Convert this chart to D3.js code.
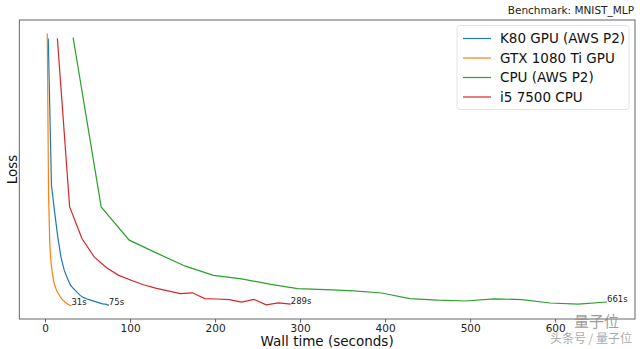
<!DOCTYPE html>
<html lang="en">
<head>
<meta charset="UTF-8">
<title>Benchmark: MNIST_MLP</title>
<script src="https://d3js.org/d3.v7.min.js"></script>
<style>
    body { margin: 0; background: #fff; font-family: "DejaVu Sans", sans-serif; }
    svg { display: block; }
</style>
</head>
<body>
<div id="chart"></div>
<script>
    // series names and colours
    const seriesNames = ["K80 GPU (AWS P2)", "GTX 1080 Ti GPU", "CPU (AWS P2)", "i5 7500 CPU"];
    const seriesColors = ["#1f77b4", "#ff7f0e", "#2ca02c", "#d62728"];

    // wall time per epoch (seconds)
    const k80Time = [3.75, 7.5, 11.25, 15, 18.75, 22.5, 26.25, 30, 33.75, 37.5, 41.25, 45, 48.75, 52.5, 56.25, 60, 63.75, 67.5, 71.25, 75];
    const gtxTime = [2.6, 4.1, 5.6, 7.1, 8.6, 10.1, 11.6, 13.1, 14.6, 16.1, 17.5, 19, 20.5, 22, 23.5, 25, 26.5, 28, 29.5, 31];
    const cpuTime = [33, 66, 99, 132, 165, 198, 231, 264, 297, 330, 363, 396, 429, 462, 495, 528, 561, 594, 627, 661];
    const i5Time  = [14.45, 28.9, 43.35, 57.8, 72.25, 86.7, 101.15, 115.6, 130.05, 144.5, 158.95, 173.4, 187.85, 202.3, 216.75, 231.2, 245.65, 260.1, 274.55, 289];

    // loss per epoch (no scale shown in the picture, so values are relative)
    const k80Loss = [0.688, 0.321, 0.254, 0.191, 0.141, 0.109, 0.089, 0.071, 0.0625, 0.054, 0.046, 0.041, 0.0375, 0.035, 0.0325, 0.030, 0.0275, 0.025, 0.024, 0.021];
    const gtxLoss = [0.700, 0.296, 0.171, 0.126, 0.101, 0.081, 0.070, 0.061, 0.054, 0.049, 0.044, 0.039, 0.035, 0.0325, 0.0295, 0.027, 0.0245, 0.0225, 0.021, 0.021];
    const cpuLoss = [0.690, 0.267, 0.184, 0.151, 0.119, 0.096, 0.0875, 0.074, 0.063, 0.0605, 0.0575, 0.052, 0.038, 0.034, 0.032, 0.0375, 0.0355, 0.027, 0.024, 0.0295];
    const i5Loss  = [0.688, 0.267, 0.188, 0.142, 0.115, 0.096, 0.084, 0.0725, 0.064, 0.0575, 0.0505, 0.0525, 0.038, 0.037, 0.0355, 0.029, 0.036, 0.0225, 0.0275, 0.024];

    const xTicks = [0, 100, 200, 300, 400, 500, 600];

    // drawing order as in the legend
    const times = [k80Time, gtxTime, cpuTime, i5Time];
    const losses = [k80Loss, gtxLoss, cpuLoss, i5Loss];
    const series = seriesNames.map((name, i) => ({
        name: name,
        color: seriesColors[i],
        values: times[i].map((t, j) => ({t: t, loss: losses[i][j]}))
    }));

    const W = 640, H = 349;
    const margin = {top: 20, right: 5, bottom: 30, left: 19.3};
    const width = W - margin.left - margin.right,
          height = H - margin.top - margin.bottom;

    const svg = d3.select("#chart").append("svg")
        .attr("width", W)
        .attr("height", H);

    const g = svg.append("g")
        .attr("transform", `translate(${margin.left},${margin.top})`);

    // matplotlib-like 5% margins around the data
    const allT = d3.merge(times), allL = d3.merge(losses);
    const tMin = d3.min(allT), tMax = d3.max(allT);
    const lMin = d3.min(allL), lMax = d3.max(allL);
    const tPad = (tMax - tMin) * 0.05, lPad = (lMax - lMin) * 0.05;

    const x = d3.scaleLinear()
        .domain([tMin - tPad, tMax + tPad])
        .range([0, width]);

    const y = d3.scaleLinear()
        .domain([lMin - lPad, lMax + lPad])
        .range([height, 0]);

    // x axis
    const xAxis = g.append("g")
        .attr("transform", `translate(0,${height})`)
        .call(d3.axisBottom(x).tickValues(xTicks).tickSize(3.5).tickPadding(2));
    xAxis.select(".domain").remove();
    xAxis.selectAll("line").attr("stroke", "#333").attr("stroke-width", 0.8);
    xAxis.selectAll("text")
        .style("font-family", "DejaVu Sans")
        .style("font-size", "10.5px")
        .attr("fill", "#222");

    // frame
    g.append("rect")
        .attr("x", 0).attr("y", 0)
        .attr("width", width).attr("height", height)
        .attr("fill", "none")
        .attr("stroke", "#555")
        .attr("stroke-width", 0.9);

    // lines
    const line = d3.line()
        .x(d => x(d.t))
        .y(d => y(d.loss));

    g.selectAll(".series")
        .data(series)
        .enter()
        .append("path")
        .attr("class", "series")
        .attr("d", d => line(d.values))
        .attr("fill", "none")
        .attr("stroke", d => d.color)
        .attr("stroke-width", 1.2);

    // end-time labels
    g.selectAll(".end-label")
        .data(series)
        .enter()
        .append("text")
        .attr("class", "end-label")
        .attr("x", d => x(d.values[d.values.length - 1].t))
        .attr("y", d => y(d.values[d.values.length - 1].loss))
        .style("font-family", "DejaVu Sans")
        .style("font-size", "8.5px")
        .attr("fill", "#222")
        .text(d => Math.round(d.values[d.values.length - 1].t) + "s");

    // axis labels
    g.append("text")
        .attr("x", width / 2)
        .attr("y", height + 26.5)
        .attr("text-anchor", "middle")
        .style("font-family", "DejaVu Sans")
        .style("font-size", "13.5px")
        .attr("fill", "#111")
        .text("Wall time (seconds)");

    g.append("text")
        .attr("transform", `translate(-2.6,${height / 2}) rotate(-90)`)
        .attr("text-anchor", "middle")
        .style("font-family", "DejaVu Sans")
        .style("font-size", "13.5px")
        .attr("fill", "#111")
        .text("Loss");

    // title
    svg.append("text")
        .attr("x", margin.left + width - 1)
        .attr("y", 13.5)
        .attr("text-anchor", "end")
        .style("font-family", "DejaVu Sans")
        .style("font-size", "10.5px")
        .attr("fill", "#222")
        .text("Benchmark: MNIST_MLP");

    // legend
    const legend = g.append("g")
        .attr("transform", `translate(${width - 178},5.5)`);

    legend.append("rect")
        .attr("width", 172)
        .attr("height", 84)
        .attr("rx", 3)
        .attr("fill", "#fff")
        .attr("fill-opacity", 0.8)
        .attr("stroke", "#ddd")
        .attr("stroke-width", 0.8);

    const item = legend.selectAll(".legend-item")
        .data(series)
        .enter()
        .append("g")
        .attr("class", "legend-item")
        .attr("transform", (d, i) => `translate(0,${13 + i * 19.5})`);

    item.append("line")
        .attr("x1", 6).attr("x2", 34)
        .attr("stroke", d => d.color)
        .attr("stroke-width", 1.2);

    item.append("text")
        .attr("x", 43)
        .attr("dy", "0.35em")
        .style("font-family", "DejaVu Sans")
        .style("font-size", "13.5px")
        .attr("fill", "#111")
        .text(d => d.name);

    // watermark
    svg.append("text")
        .attr("x", 619).attr("y", 327)
        .attr("text-anchor", "end")
        .style("font-family", "Noto Sans CJK SC")
        .style("font-size", "15px")
        .attr("fill", "#8a8a8a")
        .attr("fill-opacity", 0.85)
        .text("量子位");

    svg.append("text")
        .attr("x", 632).attr("y", 343)
        .attr("text-anchor", "end")
        .style("font-family", "Noto Sans CJK SC")
        .style("font-size", "12px")
        .attr("fill", "#999")
        .attr("fill-opacity", 0.85)
        .text("头条号 / 量子位");
</script>
</body>
</html>
